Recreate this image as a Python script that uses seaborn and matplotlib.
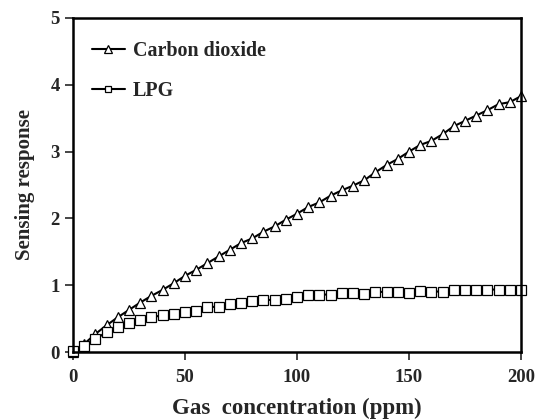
import numpy as np
import pandas as pd
import matplotlib
matplotlib.use("Agg")
import matplotlib.pyplot as plt
import seaborn as sns

conc = list(range(0, 201, 5))
co2 = [0.0, 0.12, 0.27, 0.40, 0.52, 0.63, 0.74, 0.84, 0.93, 1.03, 1.14,
       1.23, 1.33, 1.43, 1.53, 1.63, 1.70, 1.80, 1.88, 1.98, 2.07,
       2.17, 2.24, 2.34, 2.42, 2.49, 2.57, 2.69, 2.80, 2.89, 3.00,
       3.10, 3.16, 3.26, 3.38, 3.46, 3.54, 3.62, 3.71, 3.74, 3.83]
lpg = [0.015, 0.09, 0.19, 0.30, 0.37, 0.43, 0.48, 0.52, 0.55, 0.57, 0.60,
       0.62, 0.67, 0.68, 0.72, 0.73, 0.76, 0.78, 0.78, 0.80, 0.82,
       0.85, 0.86, 0.86, 0.88, 0.88, 0.87, 0.90, 0.90, 0.90, 0.89,
       0.915, 0.905, 0.905, 0.935, 0.935, 0.935, 0.935, 0.935, 0.935, 0.935]
series_names = ["Carbon dioxide", "LPG"]
x_ticks = [0, 50, 100, 150, 200]
y_ticks = [0, 1, 2, 3, 4, 5]

sns.set_theme(style="ticks")
plt.rcParams['font.family'] = ['Liberation Serif', 'DejaVu Serif']
plt.rcParams['font.weight'] = 'bold'

fig = plt.figure(figsize=(5.37, 4.19), dpi=100)
ax = fig.add_axes([73/537, 1 - 352/419, (521-73)/537, (352-18)/419])

df = pd.DataFrame({"conc": conc, "co2": co2, "lpg": lpg})
sns.lineplot(data=df, x="conc", y="co2", ax=ax, color="black", lw=1.5,
             marker="^", markersize=7.5, markerfacecolor="white",
             markeredgecolor="black", markeredgewidth=0.9,
             label=series_names[0], clip_on=False)
sns.lineplot(data=df, x="conc", y="lpg", ax=ax, color="black", lw=1.5,
             marker="s", markersize=7, markerfacecolor="white",
             markeredgecolor="black", markeredgewidth=0.9,
             label=series_names[1], clip_on=False)

ax.set_xlim(0, 200)
ax.set_ylim(0, 5)
ax.set_xticks(x_ticks)
ax.set_yticks(y_ticks)
ax.tick_params(axis='both', direction='out', length=5.5, width=1.2,
               labelsize=13.5, top=False, right=False)
ax.tick_params(axis='x', pad=6.5)
ax.tick_params(axis='y', pad=4)
for lbl in ax.get_xticklabels() + ax.get_yticklabels():
    lbl.set_fontweight('bold')
for s in ax.spines.values():
    s.set_linewidth(1.8)
    s.set_visible(True)
    s.set_color("black")

ax.set_xlabel("Gas  concentration (ppm)", fontsize=16.5, fontweight='bold', labelpad=9)
ax.set_ylabel("Sensing response", fontsize=15, fontweight='bold', labelpad=11)

leg = ax.legend(loc="upper left", frameon=False, fontsize=14.4,
                handlelength=1.65, handletextpad=0.4, labelspacing=1.0,
                markerscale=0.7, borderpad=0, borderaxespad=0,
                bbox_to_anchor=(0.042, 0.93))
for t in leg.get_texts():
    t.set_fontweight('bold')

fig.savefig("out.png", dpi=100)
